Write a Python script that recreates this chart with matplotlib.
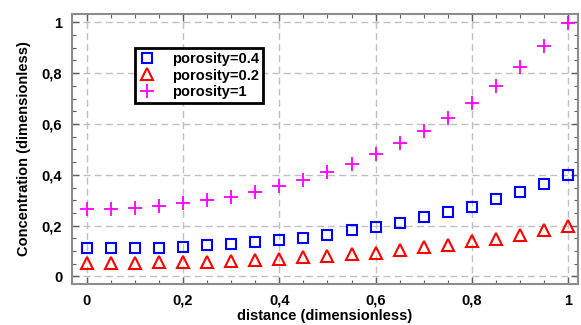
import numpy as np
import matplotlib
matplotlib.use('Agg')
import matplotlib.pyplot as plt
from matplotlib.ticker import MultipleLocator, FuncFormatter

# Data
distance = [0, 0.05, 0.1, 0.15, 0.2, 0.25, 0.3, 0.35, 0.4, 0.45, 0.5,
            0.55, 0.6, 0.65, 0.7, 0.75, 0.8, 0.85, 0.9, 0.95, 1.0]
conc_04 = [0.110, 0.110, 0.111, 0.113, 0.117, 0.123, 0.128, 0.135, 0.144, 0.153, 0.164,
           0.181, 0.194, 0.212, 0.232, 0.252, 0.275, 0.304, 0.333, 0.364, 0.400]
conc_02 = [0.054, 0.054, 0.054, 0.055, 0.056, 0.058, 0.061, 0.066, 0.069, 0.075, 0.081,
           0.087, 0.094, 0.105, 0.115, 0.123, 0.138, 0.147, 0.164, 0.184, 0.200]
conc_1 = [0.266, 0.266, 0.271, 0.279, 0.288, 0.299, 0.314, 0.332, 0.356, 0.380, 0.410,
          0.443, 0.482, 0.524, 0.573, 0.625, 0.684, 0.751, 0.825, 0.908, 0.998]

plt.rcParams['font.family'] = ['Liberation Sans', 'DejaVu Sans']
plt.rcParams['font.weight'] = 'bold'

fig = plt.figure(figsize = (5.81, 3.25), dpi = 100, facecolor = 'white')
ax = fig.add_axes([0.124, 0.126, 0.871, 0.831])

ax.plot(distance, conc_04, ls = 'none', marker = 's', ms = 7.5, mfc = 'none', mec = '#0000ff', mew = 1.5, label = 'porosity=0.4')
ax.plot(distance, conc_02, ls = 'none', marker = '^', ms = 8, mfc = 'none', mec = '#ff0000', mew = 1.5, label = 'porosity=0.2')
ax.plot(distance, conc_1, ls = 'none', marker = '+', ms = 9.5, mec = '#ff00ff', mew = 1.3, label = 'porosity=1')

ax.set_xlim(-0.03, 1.02)
ax.set_ylim(-0.03, 1.033)

comma = FuncFormatter(lambda v, p: ('%g' % round(v, 2)).replace('.', ','))
ax.xaxis.set_major_locator(MultipleLocator(0.2))
ax.yaxis.set_major_locator(MultipleLocator(0.2))
ax.xaxis.set_minor_locator(MultipleLocator(0.05))
ax.yaxis.set_minor_locator(MultipleLocator(0.05))
ax.xaxis.set_major_formatter(comma)
ax.yaxis.set_major_formatter(comma)
ax.tick_params(which = 'both', direction = 'in', top = True, right = True, color = '#606060', labelsize = 10.5)
ax.tick_params(which = 'major', length = 5, width = 1, pad = 7)
ax.tick_params(which = 'minor', length = 3, width = 0.8)

ax.grid(True, which = 'major', ls = (0, (5, 3)), color = '#c0c0c0', lw = 1)
for s in ax.spines.values():
    s.set_color('#8c8c8c')
    s.set_linewidth(1.5)

ax.set_xlabel('distance (dimensionless)', fontsize = 10.5, fontweight = 'bold', labelpad = 1)
ax.set_ylabel('Concentration (dimensionless)', fontsize = 10.5, fontweight = 'bold', labelpad = 8)

leg = ax.legend(loc = 'upper left', bbox_to_anchor = (0.125, 0.874), fontsize = 10.5, fancybox = False,
                framealpha = 1, edgecolor = 'black', borderpad = 0.3, labelspacing = 0.15,
                handletextpad = 1.2, handlelength = 1.0, borderaxespad = 0)
leg.get_frame().set_linewidth(2)

plt.savefig('out.png', dpi = 100)
